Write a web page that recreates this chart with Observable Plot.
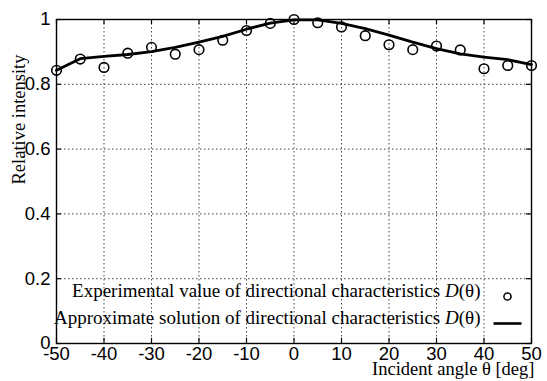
<!DOCTYPE html>
<html>
<head>
<meta charset="utf-8">
<script src="https://cdn.jsdelivr.net/npm/d3@7"></script>
<script src="https://cdn.jsdelivr.net/npm/@observablehq/plot@0.6"></script>
<style>
  html, body { margin: 0; padding: 0; background: #fff; }
  #chart { width: 547px; height: 381px; }
</style>
</head>
<body>
<div id="chart"></div>
<script>
const angles = [-50,-45,-40,-35,-30,-25,-20,-15,-10,-5,0,5,10,15,20,25,30,35,40,45,50];
const experimental = [0.843,0.878,0.852,0.896,0.914,0.893,0.907,0.936,0.966,0.988,1.0,0.99,0.977,0.95,0.922,0.907,0.918,0.906,0.848,0.858,0.858];
const approximate = [0.843,0.879,0.886,0.892,0.901,0.914,0.930,0.948,0.970,0.989,0.999,0.999,0.988,0.972,0.952,0.930,0.910,0.894,0.884,0.876,0.861];
const xTicks = [-50,-40,-30,-20,-10,0,10,20,30,40,50];
const yTicks = [0,0.2,0.4,0.6,0.8,1];
const legendLabels = [
  "Experimental value of directional characteristics D(θ)",
  "Approximate solution of directional characteristics D(θ)"
];
const xTitle = "Incident angle θ [deg]";
const yTitle = "Relative intensity";

const expData = angles.map((a, i) => ({a, v: experimental[i]}));
const apxData = angles.map((a, i) => ({a, v: approximate[i]}));

const serif = "Liberation Serif, Times New Roman, serif";
const grid = {stroke: "#444", strokeDasharray: "1.5,2.5", strokeWidth: 1};
const tickStyle = {stroke: "black", strokeWidth: 1.2};
const lineSymbol = {draw(ctx) { ctx.moveTo(-14, 0); ctx.lineTo(14, 0); }};

const plot = Plot.plot({
  width: 547,
  height: 381,
  marginLeft: 56,
  marginRight: 16,
  marginTop: 19,
  marginBottom: 38,
  style: {fontFamily: "Liberation Sans, Arial, sans-serif", fontSize: "18.5px", background: "#fff", color: "black"},
  x: {domain: [-50, 50]},
  y: {domain: [0, 1]},
  marks: [
    Plot.ruleX(xTicks.slice(1, -1), grid),
    Plot.ruleY(yTicks.slice(1, -1), grid),
    Plot.ruleX(xTicks, {x: d => d, y1: 0, y2: 0.016, ...tickStyle}),
    Plot.ruleX(xTicks, {x: d => d, y1: 1, y2: 0.984, ...tickStyle}),
    Plot.ruleY(yTicks, {y: d => d, x1: -50, x2: -48.95, ...tickStyle}),
    Plot.ruleY(yTicks, {y: d => d, x1: 50, x2: 48.95, ...tickStyle}),
    Plot.frame({stroke: "black", strokeWidth: 1.4}),
    Plot.line(apxData, {x: "a", y: "v", stroke: "black", strokeWidth: 2.8}),
    Plot.dot(expData, {x: "a", y: "v", r: 4.8, stroke: "black", strokeWidth: 1.6, fill: "none"}),
    Plot.axisX({ticks: xTicks, tickSize: 0, tickPadding: 3, tickFormat: d => String(d), fontSize: 18.5, label: null}),
    Plot.axisY({ticks: yTicks, tickSize: 0, tickPadding: 6, tickFormat: d => String(d), fontSize: 18.5, label: null}),
    Plot.text([legendLabels[0]], {frameAnchor: "bottom-right", dx: -51, dy: -47, textAnchor: "end", fontFamily: serif, fontSize: 19, fill: "black"}),
    Plot.text([legendLabels[1]], {frameAnchor: "bottom-right", dx: -51, dy: -20, textAnchor: "end", fontFamily: serif, fontSize: 19, fill: "black"}),
    Plot.dot([0], {frameAnchor: "bottom-right", dx: -24, dy: -47, r: 3.6, stroke: "black", strokeWidth: 1.5, fill: "none"}),
    Plot.dot([0], {frameAnchor: "bottom-right", dx: -24, dy: -20, symbol: lineSymbol, stroke: "black", strokeWidth: 2.6}),
    Plot.text([xTitle], {frameAnchor: "bottom-right", dx: 3, dy: 31, textAnchor: "end", fontFamily: serif, fontSize: 18.5, fill: "black"}),
    Plot.text([yTitle], {frameAnchor: "left", dx: -37, dy: 3, rotate: -90, fontFamily: serif, fontSize: 18.5, fill: "black"})
  ]
});

// italicize the "D" in D(θ)
d3.select(plot).selectAll("text").each(function() {
  const t = this.textContent;
  if (t.endsWith("D(θ)") && this.children.length === 0) {
    const prefix = t.slice(0, -4);
    const sel = d3.select(this);
    sel.text(null);
    sel.append("tspan").text(prefix);
    sel.append("tspan").attr("font-style", "italic").text("D");
    sel.append("tspan").text("(θ)");
  }
});

document.getElementById("chart").appendChild(plot);
</script>
</body>
</html>
